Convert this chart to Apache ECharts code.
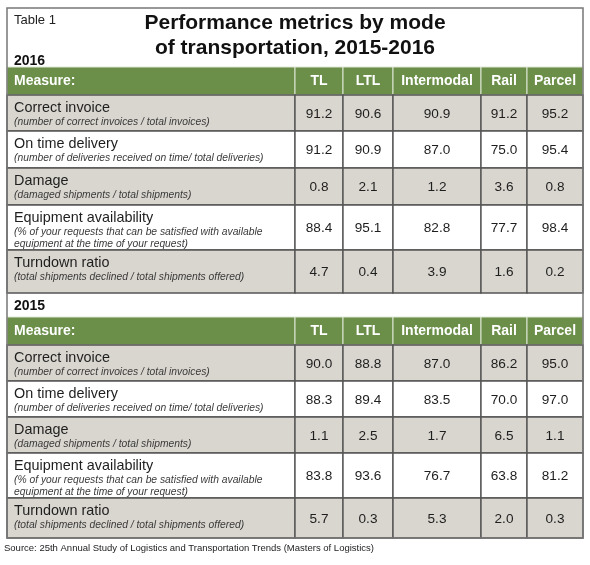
<!DOCTYPE html>
<html><head><meta charset="utf-8">
<script src="https://cdn.jsdelivr.net/npm/echarts@6/dist/echarts.min.js"></script>
<style>html,body{margin:0;padding:0;background:#fff}#main{width:590px;height:565px}</style>
</head><body><div id="main"></div>
<script>
// ---- data ----
const tableLabel = 'Table 1';
const titleLine1 = 'Performance metrics by mode';
const titleLine2 = 'of transportation, 2015-2016';
const sourceNote = 'Source: 25th Annual Study of Logistics and Transportation Trends (Masters of Logistics)';
const years = ['2016', '2015'];
const headerLabels = ['Measure:', 'TL', 'LTL', 'Intermodal', 'Rail', 'Parcel'];
const measures = ['Correct invoice', 'On time delivery', 'Damage', 'Equipment availability', 'Turndown ratio'];
const definitions = [
  ['(number of correct invoices / total invoices)'],
  ['(number of deliveries received on time/ total deliveries)'],
  ['(damaged shipments / total shipments)'],
  ['(% of your requests that can be satisfied with available', 'equipment at the time of your request)'],
  ['(total shipments declined / total shipments offered)']
];
const tl2016 = [91.2, 91.2, 0.8, 88.4, 4.7];
const ltl2016 = [90.6, 90.9, 2.1, 95.1, 0.4];
const intermodal2016 = [90.9, 87.0, 1.2, 82.8, 3.9];
const rail2016 = [91.2, 75.0, 3.6, 77.7, 1.6];
const parcel2016 = [95.2, 95.4, 0.8, 98.4, 0.2];
const tl2015 = [90.0, 88.3, 1.1, 83.8, 5.7];
const ltl2015 = [88.8, 89.4, 2.5, 93.6, 0.3];
const intermodal2015 = [87.0, 83.5, 1.7, 76.7, 5.3];
const rail2015 = [86.2, 70.0, 6.5, 63.8, 2.0];
const parcel2015 = [95.0, 97.0, 1.1, 81.2, 0.3];
const yearValues = [
  [tl2016, ltl2016, intermodal2016, rail2016, parcel2016],
  [tl2015, ltl2015, intermodal2015, rail2015, parcel2015]
];

// ---- layout (table geometry in layout units) ----
const layout = {
  colEdges: [7, 295, 343, 393, 481, 527, 583],
  frame: [7, 8, 583, 538],
  sections: [
    { labelY: 61, header: [67, 95], rows: [95, 131, 168, 205, 250, 293] },
    { labelY: 306, header: [317, 345], rows: [345, 381, 417, 453, 498, 538] }
  ]
};
const FONT = '"Liberation Sans", Arial, Helvetica, sans-serif';
const GREEN = '#6b8f49';
const GRAY = '#d9d6cf';
const LINE = '#555555';

// ---- build cell items: [section, row, col]; row -1 = header, row -2 = year label; section -1 = frame
const cells = [];
years.forEach((y, s) => {
  cells.push([s, -2, 0]);
  headerLabels.forEach((h, c) => cells.push([s, -1, c]));
});
years.forEach((y, s) => {
  measures.forEach((m, r) => {
    headerLabels.forEach((h, c) => cells.push([s, r, c]));
  });
});
cells.push([-1, 0, 0]);

function txt(text, x, y, opts) {
  return {
    type: 'text',
    style: Object.assign({
      text: text, x: x, y: y,
      fill: '#1e1e1e', fontFamily: FONT, fontSize: 14,
      align: 'left', verticalAlign: 'middle',
      textAlign: 'left', textVerticalAlign: 'middle'
    }, opts || {})
  };
}
function rectShape(api, x0, y0, x1, y1) {
  const a = api.coord([x0, y0]);
  const b = api.coord([x1, y1]);
  return { x: a[0], y: a[1], width: b[0] - a[0], height: b[1] - a[1] };
}

function renderItem(params, api) {
  const s = api.value(0), r = api.value(1), c = api.value(2);
  if (s < 0) {
    const f = layout.frame;
    return { type: 'rect', shape: rectShape(api, f[0], f[1], f[2], f[3]),
      style: { fill: 'none', stroke: '#777', lineWidth: 1.5 } };
  }
  const sec = layout.sections[s];
  const ce = layout.colEdges;
  if (r === -2) {
    const p = api.coord([ce[0] + 7, sec.labelY]);
    return txt(years[s], p[0], p[1], { fontWeight: 'bold', fontSize: 14, fill: '#111' });
  }
  const x0 = ce[c], x1 = ce[c + 1];
  if (r === -1) {
    const y0 = sec.header[0], y1 = sec.header[1];
    const sh = rectShape(api, x0, y0, x1, y1);
    const children = [{ type: 'rect', shape: sh, style: { fill: GREEN, stroke: '#dfe8d6', lineWidth: 1 } }];
    if (c === 0) {
      const p = api.coord([x0 + 7, (y0 + y1) / 2]);
      children.push(txt(headerLabels[c], p[0], p[1], { fontWeight: 'bold', fill: '#fff' }));
    } else {
      const p = api.coord([(x0 + x1) / 2, (y0 + y1) / 2]);
      children.push(txt(headerLabels[c], p[0], p[1], { fontWeight: 'bold', fill: '#fff', align: 'center', textAlign: 'center' }));
    }
    return { type: 'group', children: children };
  }
  const y0 = sec.rows[r], y1 = sec.rows[r + 1];
  const sh = rectShape(api, x0, y0, x1, y1);
  const children = [{ type: 'rect', shape: sh, style: { fill: r % 2 === 0 ? GRAY : '#ffffff', stroke: LINE, lineWidth: 1.4 } }];
  if (c === 0) {
    const p = api.coord([x0 + 7, y0 + 13]);
    children.push(txt(measures[r], p[0], p[1], { fontSize: 14.4 }));
    definitions[r].forEach((line, k) => {
      const q = api.coord([x0 + 7, y0 + 27 + 12 * k]);
      children.push(txt(line, q[0], q[1], { fontSize: 10.3, fontStyle: 'italic', fill: '#3a3a3a' }));
    });
  } else {
    const v = yearValues[s][c - 1][r];
    const p = api.coord([(x0 + x1) / 2, (y0 + y1) / 2 + 1]);
    children.push(txt(v.toFixed(1), p[0], p[1], { fontSize: 13.6, align: 'center', textAlign: 'center' }));
  }
  return { type: 'group', children: children };
}

const chart = echarts.init(document.getElementById('main'), null, { renderer: 'canvas' });
chart.setOption({
  backgroundColor: '#ffffff',
  animation: false,
  title: [
    { text: tableLabel, left: 14, top: 14, padding: 0, textStyle: { fontFamily: FONT, fontSize: 13, fontWeight: 'normal', color: '#222' } },
    { text: titleLine1, left: 'center', top: 13, padding: 0, textStyle: { fontFamily: FONT, fontSize: 21, fontWeight: 'bold', color: '#111' } },
    { text: titleLine2, left: 'center', top: 37.5, padding: 0, textStyle: { fontFamily: FONT, fontSize: 21, fontWeight: 'bold', color: '#111' } },
    { text: sourceNote, left: 4, top: 543, padding: 0, textStyle: { fontFamily: FONT, fontSize: 9.5, fontWeight: 'normal', color: '#222' } }
  ],
  grid: { left: 0, right: 0, top: 0, bottom: 0, containLabel: false },
  xAxis: { type: 'value', min: 0, max: 590, show: false },
  yAxis: { type: 'value', min: 0, max: 565, inverse: true, show: false },
  tooltip: { show: false },
  series: [{
    type: 'custom',
    renderItem: renderItem,
    data: cells,
    clip: false,
    silent: true
  }]
});
</script>
</body></html>
